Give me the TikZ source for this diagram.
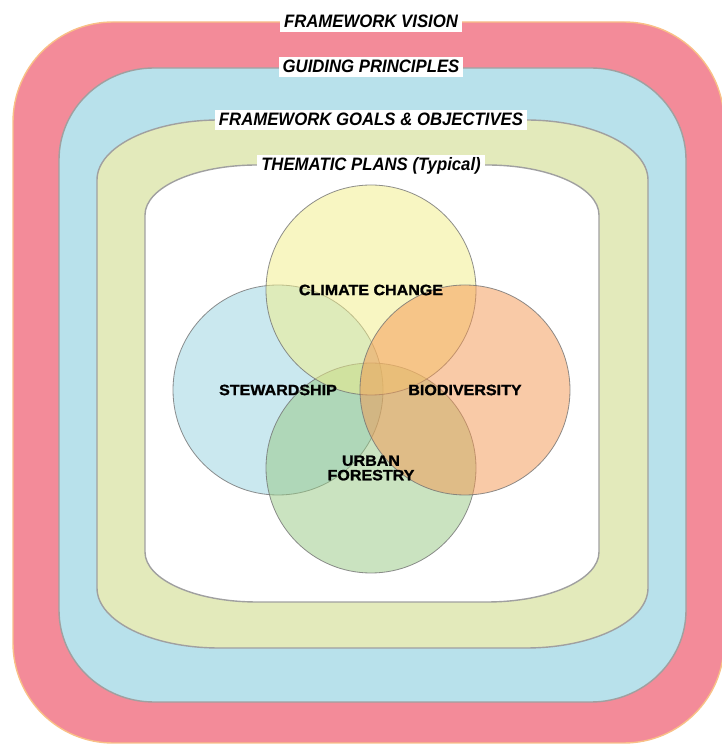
\documentclass[tikz,border=0pt]{standalone}
\usepackage{fontspec}
\setmainfont{Liberation Sans}
\newfontfamily\circfont{Liberation Sans}[FakeStretch=1.07,FakeBold=1.2]
\newfontfamily\tagfont{Liberation Sans}[FakeStretch=0.93]
\definecolor{ringpink}{RGB}{243,139,153}
\definecolor{ringedge}{RGB}{249,192,135}
\definecolor{ringblue}{RGB}{184,225,235}
\definecolor{ringgreen}{RGB}{227,234,187}
\definecolor{bandline}{RGB}{160,160,160}
\definecolor{climyellow}{RGB}{242,238,135}
\definecolor{stewblue}{RGB}{150,210,225}
\definecolor{bioorange}{RGB}{245,150,80}
\definecolor{urbgreen}{RGB}{150,200,130}

% rounded band with elliptic corners: style, x1, y1, x2, y2, x radius, y radius
\newcommand{\bandshape}[7]{%
  \draw[#1] ({#2+#6},#5) -- ({#4-#6},#5)
    arc[start angle=90, end angle=0, x radius=#6, y radius=#7]
    -- (#4,{#3+#7})
    arc[start angle=0, end angle=-90, x radius=#6, y radius=#7]
    -- ({#2+#6},#3)
    arc[start angle=270, end angle=180, x radius=#6, y radius=#7]
    -- (#2,{#5-#7})
    arc[start angle=180, end angle=90, x radius=#6, y radius=#7]
    -- cycle;}

\begin{document}
\begin{tikzpicture}[x=1pt,y=1pt,
    band/.style={draw=bandline, line width=1.4pt},
    tag/.style={fill=white, inner xsep=4pt, inner ysep=3pt,
      text height=13pt, text depth=1.5pt,
      font=\tagfont\fontsize{18}{20}\selectfont\bfseries\itshape},
    theme/.style={circle, minimum size=210pt, inner sep=0pt,
      draw=black!55, line width=0.8pt, draw opacity=0.8, fill opacity=0.5},
    themetext/.style={align=center,
      font=\circfont\fontsize{15}{14.5}\selectfont\bfseries}]
  \useasboundingbox (0,0) rectangle (722,744);

  % nested bands
  \bandshape{fill=ringpink, draw=ringedge, line width=1.4pt}{13}{1}{724}{722}{100}{100}
  \bandshape{band, fill=ringblue}{59}{42}{686}{676}{95}{92}
  \bandshape{band, fill=ringgreen}{97}{96}{648}{624}{122}{60}
  \bandshape{band, fill=white}{145}{142}{599}{579}{112}{50}

  % band titles
  \node[tag] (vision) at (371,722) {FRAMEWORK VISION};
  \node[tag] (principles) at (371,677) {GUIDING PRINCIPLES};
  \node[tag] (goals) at (371,624) {FRAMEWORK GOALS \& OBJECTIVES};
  \node[tag] (plans) at (371,579) {THEMATIC PLANS (Typical)};

  % thematic plans
  \node[theme, fill=stewblue] (stewardship) at (278,354) {};
  \node[theme, fill=urbgreen] (urban) at (371,276) {};
  \node[theme, fill=climyellow] (climate) at (371,454) {};
  \node[theme, fill=bioorange] (biodiversity) at (465,354) {};

  \node[themetext] (climatetext) at (climate.center) {CLIMATE CHANGE};
  \node[themetext] (stewardshiptext) at (stewardship.center) {STEWARDSHIP};
  \node[themetext] (biodiversitytext) at (biodiversity.center) {BIODIVERSITY};
  \node[themetext] (urbantext) at (urban.center) {URBAN\\FORESTRY};
\end{tikzpicture}
\end{document}
